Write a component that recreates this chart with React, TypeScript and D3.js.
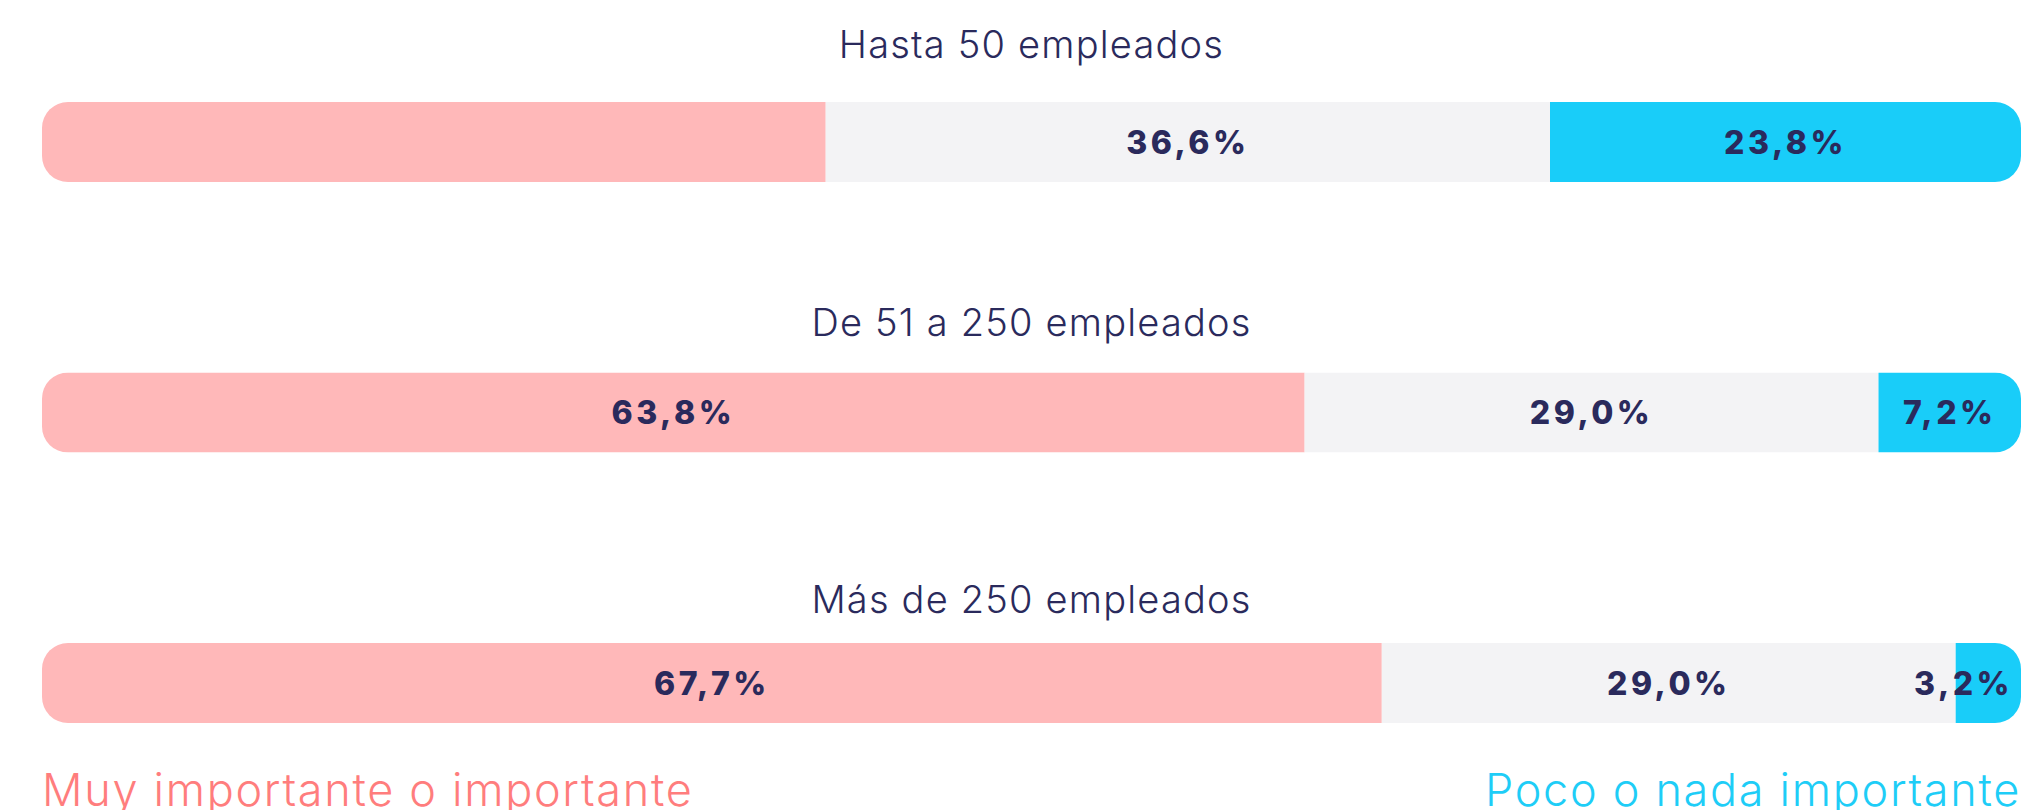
import React from "react";
import * as d3 from "d3";

// ---- data ----
const categories = ["Hasta 50 empleados", "De 51 a 250 empleados", "Más de 250 empleados"];
const seriesNames = ["Muy importante o importante", "Neutral", "Poco o nada importante"];
const importante = [39.6, 63.8, 67.7];
const neutral = [36.6, 29.0, 29.0];
const pocoImportante = [23.8, 7.2, 3.2];
const importanteLabelShown = [false, true, true];

// ---- style ----
const W = 2039;
const H = 810;
const colors = ["#ffb8b9", "#f3f3f5", "#19cdf9"];
const legendColors = ["#ff7d7d", "#1ecdf7"];
const navy = "#2a2a5c";
const FONT = "Inter, 'Open Sans', sans-serif";

const fmt = (v: number) => v.toFixed(1).replace(".", ",") + "%";

export default function App() {
  const left = 42;
  const right = 2021;
  const barH = 80;
  const x = d3.scaleLinear().domain([0, 100]).range([left, right]);
  const y = d3.scalePoint<string>().domain(categories).range([102, 643]);
  const yTitle = d3.scalePoint<string>().domain(categories).range([58, 613]);

  const rows = categories.map((c, i) => {
    const vals = [importante[i], neutral[i], pocoImportante[i]];
    const shown = [importanteLabelShown[i], true, true];
    const stack = d3.cumsum(vals);
    const segs = vals.map((v, j) => ({
      v,
      x0: x(j === 0 ? 0 : stack[j - 1]),
      x1: j === vals.length - 1 ? right : x(stack[j]),
      color: colors[j],
      shown: shown[j],
    }));
    return { c, i, segs };
  });

  const labelSize = 32;
  const estW = (s: string) => s.length * labelSize * 0.75;

  return (
    <svg
      width={W}
      height={H}
      style={{ position: "absolute", left: 0, top: 0, background: "#fff" }}
      fontFamily={FONT}
    >
      <defs>
        {rows.map((r) => (
          <clipPath id={`clip-${r.i}`} key={r.i}>
            <rect x={left} y={y(r.c)} width={right - left} height={barH} rx={26} ry={26} />
          </clipPath>
        ))}
      </defs>
      {rows.map((r) => {
        const top = y(r.c) as number;
        return (
          <g key={r.c}>
            <text
              x={(left + right) / 2}
              y={yTitle(r.c)}
              textAnchor="middle"
              fontSize={38}
              fontWeight={300}
              letterSpacing={1.2}
              fill={navy}
            >
              {r.c}
            </text>
            <g clipPath={`url(#clip-${r.i})`}>
              {r.segs.map((s, j) => (
                <rect key={j} x={s.x0} y={top} width={s.x1 - s.x0} height={barH} fill={s.color} />
              ))}
            </g>
            {r.segs.map((s, j) => {
              if (!s.shown) return null;
              const label = fmt(s.v);
              const w = estW(label);
              const fits = s.x1 - s.x0 > w;
              const cx = fits ? (s.x0 + s.x1) / 2 : right - 8;
              return (
                <text
                  key={j}
                  x={cx}
                  y={top + barH / 2}
                  dy="0.36em"
                  textAnchor={fits ? "middle" : "end"}
                  fontSize={labelSize}
                  fontWeight={800}
                  letterSpacing={3.5}
                  fill={navy}
                >
                  {label}
                </text>
              );
            })}
          </g>
        );
      })}
      <text x={left} y={806} fontSize={45} fontWeight={300} letterSpacing={1.7} fill={legendColors[0]}>
        {seriesNames[0]}
      </text>
      <text
        x={right}
        y={806}
        textAnchor="end"
        fontSize={45}
        fontWeight={300}
        letterSpacing={1.7}
        fill={legendColors[1]}
      >
        {seriesNames[2]}
      </text>
    </svg>
  );
}
